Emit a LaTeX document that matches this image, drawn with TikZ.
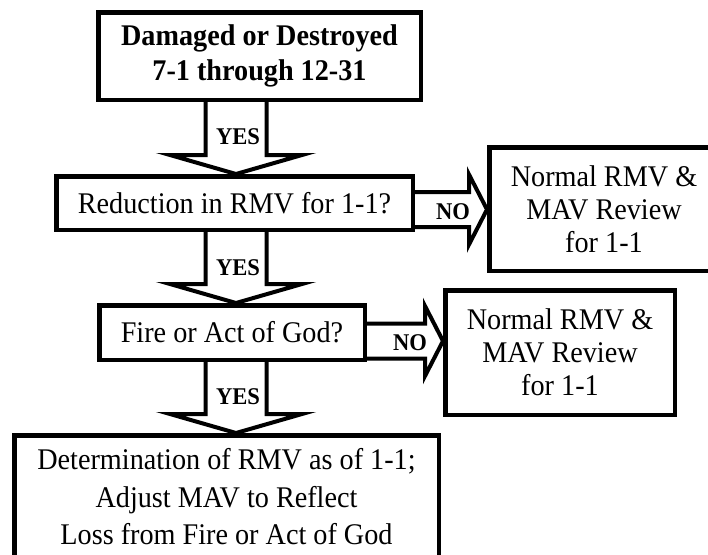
\documentclass[tikz,border=0pt]{standalone}
\usepackage{fontspec}
\setmainfont[FakeStretch=0.94]{Liberation Serif}
\usetikzlibrary{calc}
\newcommand\dnarrow[2]{%
  \draw[barrow] ($(#1)+(-30.5,0)$) -- ($(#2)+(-30.5,-19)$) -- ($(#2)+(-66,-19)$) -- (#2)
    -- ($(#2)+(66,-19)$) -- ($(#2)+(30.5,-19)$) -- ($(#1)+(30.5,0)$);}
\newcommand\rtarrow[2]{%
  \draw[barrow] ($(#1)+(0,-17.5)$) -- ($(#2)+(-18,-17.5)$) -- ($(#2)+(-18,-35)$) -- (#2)
    -- ($(#2)+(-18,35)$) -- ($(#2)+(-18,17.5)$) -- ($(#1)+(0,17.5)$);}
\begin{document}
\begin{tikzpicture}[x=1pt,y=-1pt,
  box/.style={draw, line width=4.5pt, rectangle, inner sep=0pt, align=center,
    font=\fontsize{30}{33}\selectfont},
  barrow/.style={draw, line width=4pt, line join=miter, miter limit=10},
  lbl/.style={font=\fontsize{24}{26}\selectfont\bfseries, inner sep=0pt}]
\useasboundingbox (0,0) rectangle (708,554);
\clip (0,0) rectangle (708,554);
\node[box, minimum width=322.5pt, minimum height=87.5pt,
  font=\fontsize{30}{35}\selectfont\bfseries] (b1) at (259.5,56)
  {Damaged or Destroyed\\7-1 through 12-31};
\node[box, minimum width=356.5pt, minimum height=53.5pt] (b2) at (234.5,203)
  {Reduction in RMV for 1-1?};
\node[box, minimum width=229.5pt, minimum height=123.5pt] (b3) at (604,209)
  {Normal RMV \&\\MAV Review\\for 1-1};
\node[box, minimum width=265.5pt, minimum height=54.5pt] (b4) at (232,332.5)
  {Fire or Act of God?};
\node[box, minimum width=229.5pt, minimum height=124.5pt] (b5) at (560,352.5)
  {Normal RMV \&\\MAV Review\\for 1-1};
\node[box, minimum width=424.5pt, minimum height=123.5pt,
  font=\fontsize{30}{37.5}\selectfont] (b6) at (226.5,497)
  {Determination of RMV as of 1-1;\\Adjust MAV to Reflect\\Loss from Fire or Act of God};
\coordinate (ax) at (236,0);
\coordinate (ay1) at (0,209.5);
\coordinate (ay2) at (0,341);
\coordinate (t1) at (b1.south -| ax);
\coordinate (p1) at (b2.north -| ax);
\coordinate (t2) at (b2.south -| ax);
\coordinate (p2) at (b4.north -| ax);
\coordinate (t3) at (b4.south -| ax);
\coordinate (p3) at (b6.north -| ax);
\coordinate (s1) at (b2.east |- ay1);
\coordinate (q1) at (b3.west |- ay1);
\coordinate (s2) at (b4.east |- ay2);
\coordinate (q2) at (b5.west |- ay2);
\dnarrow{t1}{p1}
\dnarrow{t2}{p2}
\dnarrow{t3}{p3}
\rtarrow{s1}{q1}
\rtarrow{s2}{q2}
\node[lbl] (y1) at (238,137) {YES};
\node[lbl] (y2) at (238,268) {YES};
\node[lbl] (y3) at (238,397) {YES};
\node[lbl] (n1) at (453,212) {NO};
\node[lbl] (n2) at (410,343) {NO};
\end{tikzpicture}
\end{document}
